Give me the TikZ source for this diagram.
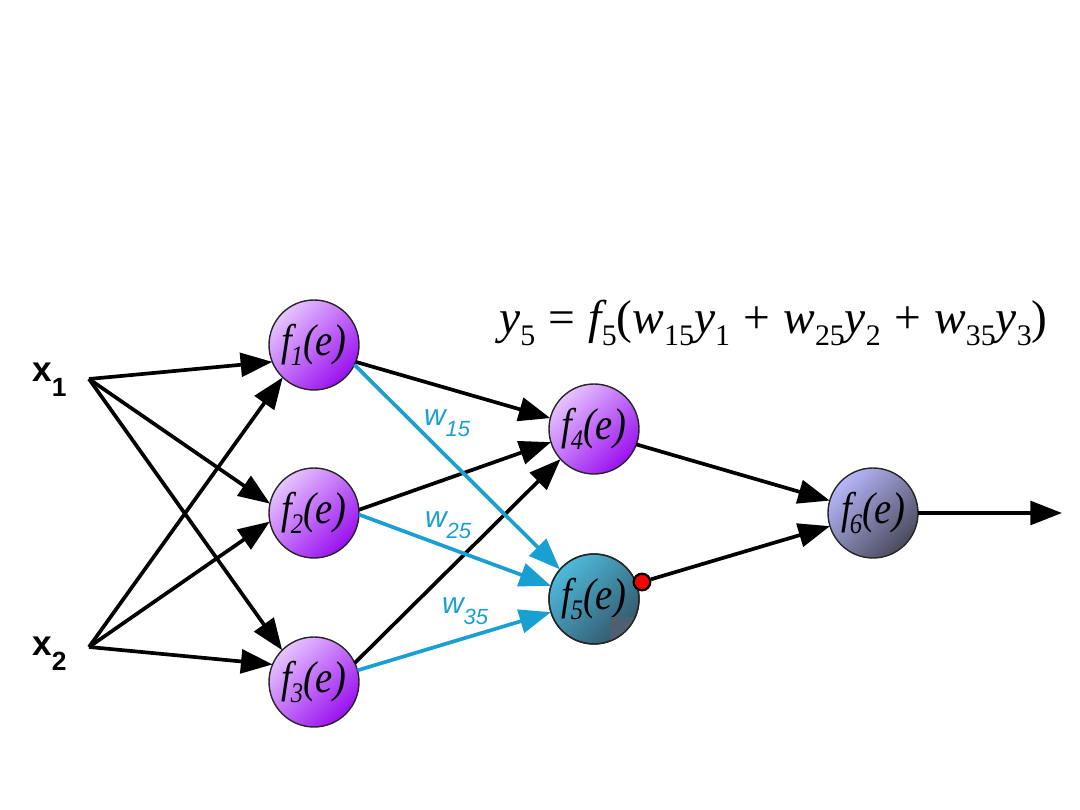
\documentclass[tikz,border=0pt]{standalone}
\usepackage{graphicx}
\usepackage{fontspec}
\setmainfont{Liberation Sans}
\newfontfamily\ser{Liberation Serif}
\usetikzlibrary{arrows.meta}
\definecolor{wblue}{HTML}{1A9FD2}
\definecolor{pLight}{HTML}{E6C4FF}
\definecolor{pMid}{HTML}{C27AF6}
\definecolor{pDark}{HTML}{9A10F0}
\definecolor{tLight}{HTML}{4EBADC}
\definecolor{tMid}{HTML}{3A92B0}
\definecolor{tDark}{HTML}{33586A}
\definecolor{vLight}{HTML}{B6B6FA}
\definecolor{vMid}{HTML}{9494D4}
\definecolor{vDark}{HTML}{4A4A5C}
\definecolor{sqcol}{HTML}{4E6070}
\tikzset{
  neuron/.style={circle, draw=black!85, line width=0.8pt, minimum size=1.8cm, inner sep=0pt, outer sep=0pt},
  purp/.style={neuron, top color=pLight, middle color=pMid, bottom color=pDark, shading angle=45},
  teal/.style={neuron, top color=tLight, middle color=tMid, bottom color=tDark, shading angle=45},
  viol/.style={neuron, top color=vLight, middle color=vMid, bottom color=vDark, shading angle=45},
  arr/.style={line width=2.1pt, -{Triangle[length=18pt,width=13.5pt]}},
  barr/.style={arr, draw=wblue, color=wblue},
  xlab/.style={font=\fontsize{20}{22}\selectfont\bfseries, inner sep=0pt},
  wlab/.style={font=\fontsize{17}{19}\selectfont\itshape, text=wblue, inner sep=0pt},
  flab/.style={font=\fontsize{22}{26}\selectfont\ser\itshape}
}
\newcommand{\fe}[1]{\scalebox{1}[1.15]{f\kern-0.05em\raisebox{-0.22em}{\fontsize{14}{16}\selectfont #1}(e)}}
\newcommand{\wl}[1]{w\raisebox{-6pt}{\fontsize{12.5}{14}\selectfont\itshape #1}}
\newcommand{\sbs}[1]{\raisebox{-0.25em}{\upshape\fontsize{17}{20}\selectfont #1}}
\newcommand{\op}[1]{\hspace{0.28em}{\upshape #1}\hspace{0.28em}}
\begin{document}
\begin{tikzpicture}[x=0.02cm, y=-0.02cm]
\useasboundingbox (0,0) rectangle (1080,810);
% neurons
\node[purp, flab] (f1) at (314,345) {\fe{1}};
\node[purp, flab] (f2) at (314,513) {\fe{2}};
\node[purp, flab] (f3) at (314,682) {\fe{3}};
\node[purp, flab] (f4) at (594,429) {\fe{4}};
\node[teal, flab] (f5) at (594,599) {\fe{5}};
\node[viol, flab] (f6) at (873,513) {\fe{6}};
% artefact square inside f5
\begin{scope}
  \clip (594,599) circle (45);
  \fill[sqcol] (610,617) rectangle (660,660);
\end{scope}
\draw[black!85, line width=0.8pt] (f5.center) circle (45);
% inputs
\node[xlab, anchor=base west] (x1) at (32,382) {x\raisebox{-8.5pt}{\fontsize{15}{16}\selectfont\bfseries 1}};
\node[xlab, anchor=base west] (x2) at (32,656) {x\raisebox{-8.5pt}{\fontsize{15}{16}\selectfont\bfseries 2}};
\coordinate (x1o) at (89,379);
\coordinate (x2o) at (89,647);
\coordinate (out) at (1062,513);
% input connections
\draw[arr] (x1o) -- (f1.202);
\draw[arr] (x1o) -- (f2.168);
\draw[arr] (x1o) -- (f3.135);
\draw[arr] (x2o) -- (f1.226);
\draw[arr] (x2o) -- (f2.191);
\draw[arr] (x2o) -- (f3.157);
% hidden to f4
\draw[arr] (f1.338) -- (f4.166);
\draw[arr] (f2.4) -- (f4.197);
\draw[arr] (f3.25) -- (f4.222);
% hidden to f5 (weighted)
\draw[barr] (f1.334) -- (f5.139);
\draw[barr] (f2.358) -- (f5.163);
\draw[barr] (f3.15) -- (f5.197);
% weight labels
\node[wlab] (w15) at (447,423) {\wl{15}};
\node[wlab] (w25) at (448,525) {\wl{25}};
\node[wlab] (w35) at (465,611) {\wl{35}};
% output layer
\node[circle, fill=red, draw=black, line width=1.3pt, minimum size=0.33cm, inner sep=0pt] (dot) at (642,582) {};
\draw[arr] (f4.340) -- (f6.164);
\draw[arr] (dot) -- (f6.197);
\draw[arr] (f6.east) -- (out);
% equation
\node[anchor=base west, inner sep=0pt, font=\fontsize{27}{30}\selectfont\ser\itshape] (eq) at (499,334)
  {y\sbs{5}\op{=}f\sbs{5}{\upshape(}w\sbs{15}y\sbs{1}\op{+}w\sbs{25}y\sbs{2}\op{+}w\sbs{35}y\sbs{3}{\upshape)}};
\end{tikzpicture}
\end{document}
